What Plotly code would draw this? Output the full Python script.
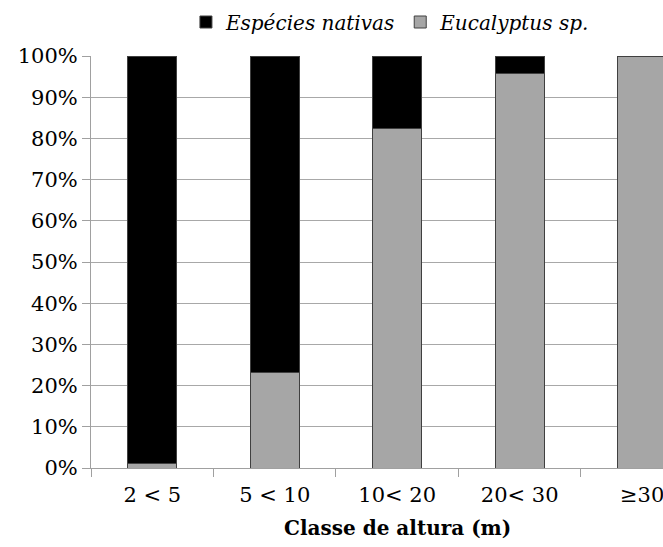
import plotly.graph_objects as go

# Height classes and share (%) of each group in every class
classes = ["2 < 5", "5 < 10", "10< 20", "20< 30", "≥30"]
eucalyptus = [1.0, 23.3, 82.4, 95.8, 100.0]
nativas = [99.0, 76.7, 17.6, 4.2, 0.0]

SERIF = "DejaVu Serif"

fig = go.Figure()
fig.add_trace(go.Bar(
    x=classes, y=eucalyptus, name="Eucalyptus sp.",
    marker=dict(color="#a6a6a6", line=dict(color="#404040", width=1)),
    width=0.4,
))
fig.add_trace(go.Bar(
    x=classes, y=nativas, name="Espécies nativas",
    marker=dict(color="#000000", line=dict(color="#404040", width=1)),
    width=0.4,
))

fig.update_layout(
    barmode="stack",
    width=663, height=547,
    margin=dict(l=91, r=0, t=56, b=79, autoexpand=False),
    paper_bgcolor="white", plot_bgcolor="white",
    font=dict(family=SERIF, size=21, color="black"),
    showlegend=True,
    legend=dict(
        orientation="h", traceorder="reversed",
        x=0.166, xanchor="left", y=1.0825, yanchor="middle",
        font=dict(family=SERIF, size=20, style="italic"),
        itemwidth=30, tracegroupgap=0,
        bgcolor="rgba(0,0,0,0)",
    ),
    bargap=0.6,
)

fig.update_xaxes(
    type="category",
    range=[-0.5, 4.17],
    showline=True, linecolor="#a0a0a0", linewidth=1,
    ticks="outside", tickson="boundaries", ticklen=8, tickcolor="#a0a0a0",
    ticklabelstandoff=8,
    showgrid=False,
    tickfont=dict(family=SERIF, size=21),
)
fig.update_yaxes(
    range=[0, 100], dtick=10, ticksuffix="%",
    showline=True, linecolor="#a0a0a0", linewidth=1,
    ticks="outside", ticklen=8, tickcolor="#a0a0a0",
    showgrid=True, gridcolor="#a8a8a8", gridwidth=1,
    tickfont=dict(family=SERIF, size=21),
    zeroline=False,
)

# Axis title centred on the full category span
fig.add_annotation(
    text="<b>Classe de altura (m)</b>",
    xref="x", x=2.0, yref="paper", y=-0.146, yanchor="middle",
    showarrow=False, font=dict(family=SERIF, size=20),
)

fig.write_html("out.html")
